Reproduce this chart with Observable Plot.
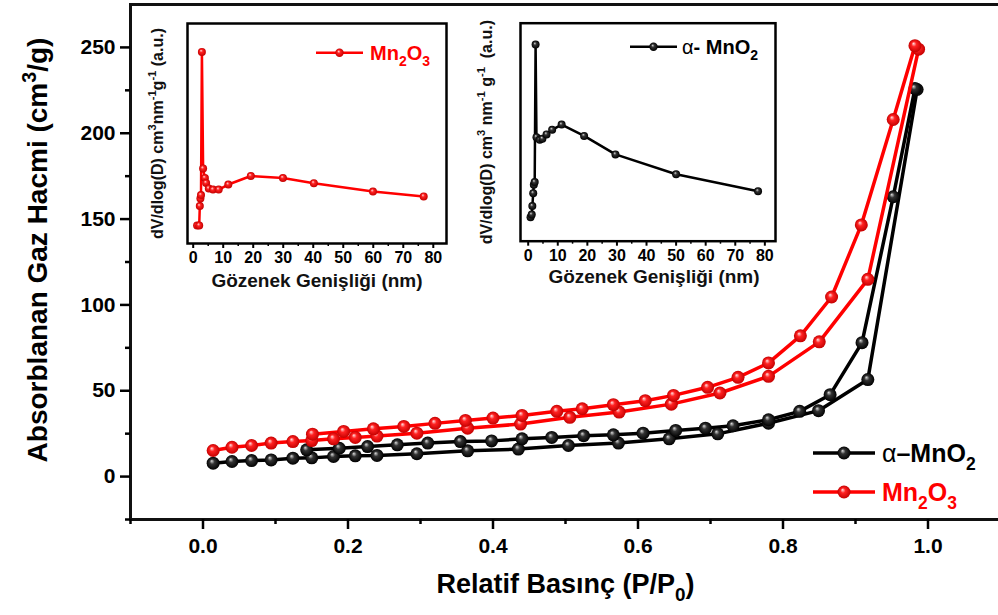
<!DOCTYPE html>
<html><head><meta charset="utf-8">
<script src="https://cdn.jsdelivr.net/npm/d3@7"></script>
<script src="https://cdn.jsdelivr.net/npm/@observablehq/plot@0.6"></script>
<style>
body{margin:0;background:#fff;font-family:"Liberation Sans",Arial,sans-serif;}
#wrap{position:relative;width:998px;height:615px;overflow:hidden;background:#fff}
#wrap svg{position:absolute;overflow:visible}
</style></head><body>
<svg width="0" height="0" style="position:absolute"><defs>
<radialGradient id="redBall" cx="0.5" cy="0.5" r="0.5" fx="0.38" fy="0.32">
 <stop offset="0" stop-color="#ffe4e4"/><stop offset="0.38" stop-color="#ff2222"/><stop offset="1" stop-color="#c40000"/>
</radialGradient>
<radialGradient id="blackBall" cx="0.5" cy="0.5" r="0.5" fx="0.38" fy="0.32">
 <stop offset="0" stop-color="#dcdcdc"/><stop offset="0.38" stop-color="#333"/><stop offset="1" stop-color="#000"/>
</radialGradient>
</defs></svg>
<div id="wrap"></div>
<script>
// ---- Main isotherm data (P/P0, cm3/g) ----
const mno2AdsP = [0.014,0.040,0.067,0.094,0.124,0.150,0.180,0.210,0.240,0.295,0.365,0.435,0.504,0.573,0.643,0.710,0.780,0.849,0.917,0.985];
const mno2AdsV = [7.8,8.8,9.3,9.7,10.7,10.9,11.7,12.1,12.3,13.3,15.0,16.0,18.1,19.5,22.0,24.9,31.1,38.4,56.5,225.5];
const mno2DesP = [0.982,0.952,0.909,0.865,0.823,0.780,0.731,0.693,0.652,0.607,0.566,0.525,0.481,0.440,0.398,0.355,0.310,0.268,0.227,0.188,0.143];
const mno2DesV = [226,163,78,47.7,38,33.1,29.6,28.2,26.9,25.3,24.3,23.8,22.8,22.0,20.8,20.4,19.5,18.5,17.5,16.5,15.6];
const mn2o3AdsP = [0.014,0.040,0.067,0.094,0.124,0.150,0.180,0.210,0.240,0.295,0.365,0.438,0.506,0.574,0.646,0.713,0.780,0.850,0.917,0.987];
const mn2o3AdsV = [15.2,17.1,18.1,19.5,20.4,21.0,22.0,22.8,23.6,25.3,28.2,30.6,34.5,37.6,42.2,48.7,58.4,78.5,114.9,249];
const mn2o3DesP = [0.982,0.952,0.908,0.867,0.824,0.780,0.738,0.696,0.649,0.610,0.566,0.523,0.488,0.440,0.400,0.362,0.320,0.277,0.235,0.194,0.151];
const mn2o3DesV = [251,208,146.6,104.6,82,66.2,57.8,52,47.3,44.2,41.9,39.5,38,35.6,34.1,32.7,31,29.2,27.8,26.3,24.7];

// ---- Inset pore size distributions (nm, a.u.) ----
const mn2o3PoreD  = [1.3,2.0,2.2,2.4,2.6,2.9,3.3,3.9,4.3,5.2,6.6,8.5,11.7,19.2,29.9,40.2,59.9,76.8];
const mn2o3PoreDv = [8.2,8.2,17,20.4,22,87.1,34.1,29.8,27.5,25,24.5,24.5,26.8,30.7,29.8,27.4,23.6,21.4];
const mno2PoreD  = [0.8,1.2,1.4,1.7,1.9,2.2,2.5,2.8,3.9,4.8,6.2,8.1,11.3,18.9,29.5,50.0,77.7];
const mno2PoreDv = [11.0,12.2,16.1,22.0,25.9,27.1,90.2,47.7,46.5,47.0,49.0,51.1,53.5,48.3,39.8,30.7,22.9];

// ---- Ticks ----
const xMajor = [0,0.2,0.4,0.6,0.8,1.0];
const xMinor = [-0.1,0.1,0.3,0.5,0.7,0.9,1.1];
const yMajor = [0,50,100,150,200,250];
const yMinor = [-25,25,75,125,175,225];
const inMajor = [0,10,20,30,40,50,60,70,80];
const inMinor = [5,15,25,35,45,55,65,75];

const FONT = '"Liberation Sans", Arial, sans-serif';
const zip = (xs, ys, branch) => xs.map((x,i)=>({x, y: ys[i], branch}));
const black = [...zip(mno2AdsP, mno2AdsV, "a"), ...zip(mno2DesP, mno2DesV, "d")];
const red = [...zip(mn2o3AdsP, mn2o3AdsV, "a"), ...zip(mn2o3DesP, mn2o3DesV, "d")];

function rich(svg, key, parts, base) {
  d3.select(svg).selectAll("text").filter(function(){return this.textContent===key;}).each(function(){
    const t = d3.select(this); t.text(null);
    let cur = 0;
    for (const [s,k] of parts) {
      const shift = k==="sub" ? 0.3*base : k==="sup" ? -0.42*base : 0;
      const ts = t.append("tspan").text(s);
      if (shift-cur !== 0) ts.attr("dy", shift-cur);
      if (k) ts.attr("font-size", 0.7*base);
      cur = shift;
    }
  });
}

const main = Plot.plot({
  width: 998, height: 615,
  marginLeft: 130, marginRight: -2, marginTop: 4, marginBottom: 96,
  style: {fontFamily: FONT, background: "transparent", color: "#000"},
  x: {domain: [-0.1, 1.1]},
  y: {domain: [-25, 275]},
  marks: [
    Plot.frame({stroke: "#111", strokeWidth: 3}),
    Plot.axisY(yMajor, {tickSize: 10, tickPadding: 5, fontSize: 21, fontWeight: "bold", strokeWidth: 2.5, label: null, tickFormat: d=>String(d)}),
    Plot.axisY(yMinor, {tickSize: 5, strokeWidth: 2.5, label: null, tickFormat: ()=>""}),
    Plot.axisX(xMajor, {tickSize: 10, tickPadding: 9, fontSize: 21, fontWeight: "bold", strokeWidth: 2.5, label: null, tickFormat: d3.format(".1f")}),
    Plot.axisX(xMinor, {tickSize: 5, strokeWidth: 2.5, label: null, tickFormat: ()=>""}),
    Plot.line(black, {x: "x", y: "y", z: "branch", stroke: "#000", strokeWidth: 3.5}),
    Plot.dot(black, {x: "x", y: "y", r: 6.5, fill: "url(#blackBall)"}),
    Plot.line(red, {x: "x", y: "y", z: "branch", stroke: "#ff0000", strokeWidth: 3.5}),
    Plot.dot(red, {x: "x", y: "y", r: 6.5, fill: "url(#redBall)"}),
    Plot.text(["@YT"], {frameAnchor: "left", textAnchor: "middle", dx: -92, dy: -12, rotate: -90, fontSize: 28, fontWeight: "bold", fill: "#000"}),
    Plot.text(["@XT"], {frameAnchor: "bottom", dy: 73, fontSize: 27, fontWeight: "bold", fill: "#000"})
  ]
});
main.style.left = "0px"; main.style.top = "0px";
document.getElementById("wrap").appendChild(main);
rich(main, "@YT", [["Absorblanan Gaz Hacmi (cm"],["3","sup"],["/g)"]], 28);
rich(main, "@XT", [["Relatif Basınç (P/P"],["0","sub"],[")"]], 27);

// legend
function legendItem(svg, x0, x1, y, color, ball, parts, base, tx) {
  const big = base > 22;
  const g = d3.select(svg).append("g");
  g.append("line").attr("x1", x0).attr("x2", x1).attr("y1", y).attr("y2", y).attr("stroke", color).attr("stroke-width", big ? 3.5 : 2.5);
  g.append("circle").attr("cx", (x0+x1)/2).attr("cy", y).attr("r", big ? 6.5 : 4.2).attr("fill", `url(#${ball})`);
  const t = g.append("text").attr("x", tx).attr("y", y).attr("dy", "0.36em").attr("fill", color)
    .attr("text-anchor", "start").attr("font-size", base).attr("font-weight", "bold").attr("font-family", FONT);
  let cur = 0;
  for (const [s,k,w] of parts) {
    const shift = k==="sub" ? 0.3*base : 0;
    const ts = t.append("tspan").text(s);
    if (shift-cur !== 0) ts.attr("dy", shift-cur);
    if (k) ts.attr("font-size", 0.7*base);
    if (w) ts.attr("font-weight", w);
    cur = shift;
  }
}
legendItem(main, 813, 875, 453, "#000", "blackBall", [["α","", "normal"],["–MnO"],["2","sub"]], 25, 882);
legendItem(main, 813, 875, 492, "#ff0000", "redBall", [["Mn"],["2","sub"],["O"],["3","sub"]], 25, 882);

// ---- Insets ----
function inset(left, top, w, h, m, xdom, data, color, ball, ytKey, ytParts, ytDx, xtDx, xtDy) {
  const p = Plot.plot({
    width: w, height: h,
    marginLeft: m[0], marginRight: m[1], marginTop: m[2], marginBottom: m[3],
    style: {fontFamily: FONT, background: "transparent", color: "#000", overflow: "visible"},
    x: {domain: xdom}, y: {domain: [0, 100], axis: null},
    marks: [
      Plot.frame({stroke: "#000", strokeWidth: 2.5}),
      Plot.axisX(inMajor, {tickSize: 5, tickPadding: 3, fontSize: 16, fontWeight: "bold", strokeWidth: 2, label: null, tickFormat: d=>String(d)}),
      Plot.axisX(inMinor, {tickSize: 3, strokeWidth: 1.5, label: null, tickFormat: ()=>""}),
      Plot.line(data, {x: "x", y: "y", stroke: color, strokeWidth: 2.5}),
      Plot.dot(data, {x: "x", y: "y", r: 4, fill: `url(#${ball})`}),
      Plot.text([ytKey], {frameAnchor: "left", textAnchor: "middle", dx: ytDx, rotate: -90, fontSize: 16, fontWeight: "bold", fill: "#111"}),
      Plot.text(["Gözenek Genişliği (nm)"], {frameAnchor: "bottom", dx: xtDx, dy: xtDy, fontSize: 19, fontWeight: "bold", fill: "#111"})
    ]
  });
  p.style.left = left + "px"; p.style.top = top + "px";
  document.getElementById("wrap").appendChild(p);
  rich(p, ytKey, ytParts, 16);
  return p;
}
const in1 = inset(145, 8, 310, 292, [42, 9, 15, 57], [-1.9, 84.4],
  zip(mn2o3PoreD, mn2o3PoreDv), "#ff0000", "redBall", "@Y1",
  [["dV/dlog(D) cm"],["3","sup"],["nm"],["-1","sup"],["g"],["-1","sup"],[" (a.u.)"]], -30, 0, 43);
legendItem(in1, 171, 218, 44.7, "#ff0000", "redBall", [["Mn"],["2","sub"],["O"],["3","sub"]], 20, 225);

const in2 = inset(468, 8, 320, 292, [52, 13, 14.7, 59.3], [-2.6, 83.6],
  zip(mno2PoreD, mno2PoreDv), "#000", "blackBall", "@Y2",
  [["dV/dlog(D) cm"],["3","sup"],[" nm"],["-1","sup"],[" g"],["-1","sup"],["  (a.u.)"]], -34, 6, 42);
legendItem(in2, 162, 209, 38.7, "#000", "blackBall", [["α","", "normal"],["- MnO"],["2","sub"]], 20, 214);
</script>
</body></html>
